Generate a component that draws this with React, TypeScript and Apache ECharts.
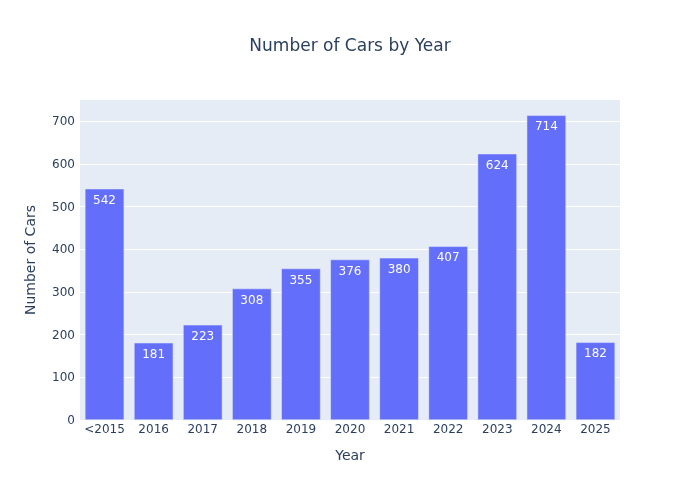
import React, { useEffect, useRef } from "react";
import * as echarts from "echarts";

const categories = ["<2015", "2016", "2017", "2018", "2019", "2020", "2021", "2022", "2023", "2024", "2025"];
const counts = [542, 181, 223, 308, 355, 376, 380, 407, 624, 714, 182];

const FONT = '"DejaVu Sans", Verdana, Arial, sans-serif';
const TEXT = "#2a3f5f";

export default function App() {
  const ref = useRef<HTMLDivElement>(null);
  useEffect(() => {
    if (!ref.current) return;
    const chart = echarts.init(ref.current, undefined, { renderer: "svg" });
    chart.setOption({
      animation: false,
      textStyle: { fontFamily: FONT },
      title: {
        text: "Number of Cars by Year",
        left: "center",
        top: 31,
        textStyle: { fontFamily: FONT, fontSize: 17, fontWeight: "normal", color: TEXT },
      },
      grid: { left: 80, right: 80, top: 100, bottom: 80, backgroundColor: "#E5ECF6", show: true, borderWidth: 0 },
      xAxis: {
        type: "category",
        data: categories,
        name: "Year",
        nameLocation: "middle",
        nameGap: 28,
        nameTextStyle: { fontFamily: FONT, fontSize: 14, color: TEXT },
        axisLine: { show: false },
        axisTick: { show: false },
        axisLabel: { fontFamily: FONT, fontSize: 12, color: TEXT, margin: 3, interval: 0, hideOverlap: false },
      },
      yAxis: {
        type: "value",
        min: 0,
        max: 750,
        interval: 100,
        name: "Number of Cars",
        nameLocation: "middle",
        nameGap: 43,
        nameTextStyle: { fontFamily: FONT, fontSize: 14, color: TEXT },
        axisLine: { show: false },
        axisTick: { show: false },
        axisLabel: { fontFamily: FONT, fontSize: 12, color: TEXT, margin: 5, showMaxLabel: false },
        splitLine: { show: true, showMaxLine: false, lineStyle: { color: "#ffffff", width: 1 } },
      },
      series: [
        {
          type: "bar",
          data: counts,
          barCategoryGap: "20%",
          itemStyle: { color: "#636EFA", borderColor: "#E5ECF6", borderWidth: 0.5 },
          label: {
            show: true,
            position: "insideTop",
            distance: 5,
            color: "#ffffff",
            fontFamily: FONT,
            fontSize: 12,
          },
        },
      ],
    });
    return () => chart.dispose();
  }, []);
  return <div ref={ref} style={{ position: "fixed", left: 0, top: 0, width: 700, height: 500 }} />;
}
